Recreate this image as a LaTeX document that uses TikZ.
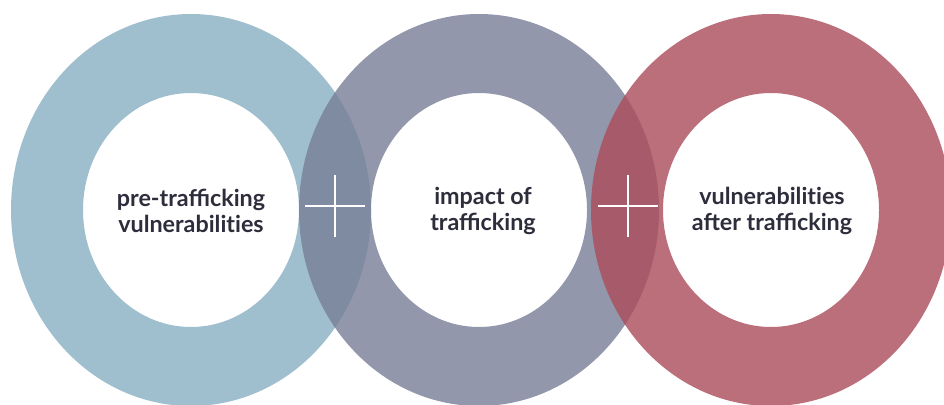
\documentclass[tikz,border=0pt]{standalone}
\usepackage{fontspec}
\setmainfont{Lato}[UprightFont=* Bold]
\usetikzlibrary{calc}
\definecolor{ringA}{RGB}{136,175,196}
\definecolor{ringB}{RGB}{120,126,150}
\definecolor{ringC}{RGB}{171,75,90}
\definecolor{labeltext}{RGB}{45,45,60}
\newcommand{\nti}{t\kern0pt i}
\tikzset{
	ring/.style={even odd rule, fill opacity=0.8},
	label/.style={text=labeltext, align=center, font=\fontsize{23.3}{26.5}\selectfont},
	plus/.style={white, line width=1.6pt}
}

\begin{document}
\begin{tikzpicture}[x=1pt, y=-1pt]
\useasboundingbox[fill=white] (0,0) rectangle (944,404);
\foreach \n/\x/\c in {a/191/ringA, b/479/ringB, c/771/ringC}{
	\coordinate (\n) at (\x,210);
	\fill[ring, \c] (\n) ellipse [x radius=180pt, y radius=196pt] (\n) ellipse [x radius=108pt, y radius=117pt];
}
\coordinate (p1) at ($(a)!0.5!(b)+(0,-4)$);
\coordinate (p2) at ($(b)!0.5!(c)+(3,-4)$);
\foreach \p in {p1,p2}{
	\draw[plus] ($(\p)+(-30,0)$)--($(\p)+(30,0)$);
	\draw[plus] ($(\p)+(0,-31)$)--($(\p)+(0,31)$);
}

\node[label] (ta) at ($(a)+(0,1)$) {pre-trafficking\\vulnerabili\nti es};
\node[label] (tb) at ($(b)+(4,1)$) {impact of\\trafficking};
\node[label] (tc) at ($(c)+(1,1)$) {vulnerabili\nti es\\after trafficking};
\end{tikzpicture}
\end{document}
